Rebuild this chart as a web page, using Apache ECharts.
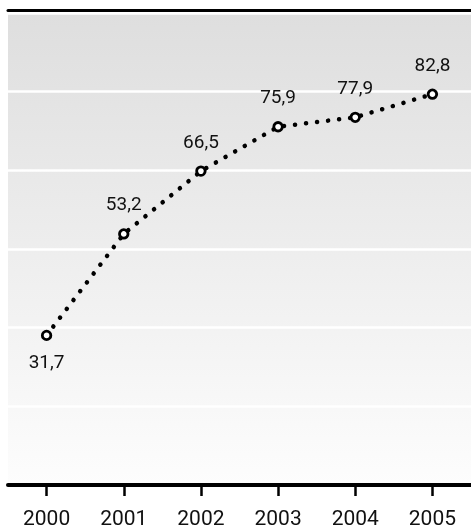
<!DOCTYPE html>
<html>
<head>
<meta charset="utf-8">
<script src="https://cdn.jsdelivr.net/npm/echarts@6/dist/echarts.min.js"></script>
<style>
html,body{margin:0;padding:0;background:#fff;}
#chart{width:471px;height:530px;}
</style>
</head>
<body>
<div id="chart"></div>
<script>
var years = ['2000', '2001', '2002', '2003', '2004', '2005'];
var values = [31.7, 53.2, 66.5, 75.9, 77.9, 82.8];
var labelsBelow = ['2000'];

var FONT = 'Roboto, "Liberation Sans Narrow", sans-serif';

var chart = echarts.init(document.getElementById('chart'), null, {renderer: 'canvas'});

var seriesData = values.map(function (v, i) {
  var below = labelsBelow.indexOf(years[i]) >= 0;
  return {
    value: v,
    label: { position: below ? 'bottom' : 'top' }
  };
});

chart.setOption({
  animation: false,
  backgroundColor: '#ffffff',
  grid: {
    left: 8, right: -6, top: 13, bottom: 44,
    show: true,
    borderWidth: 0,
    backgroundColor: {
      type: 'linear', x: 0, y: 0, x2: 0, y2: 1,
      colorStops: [
        { offset: 0, color: '#dedede' },
        { offset: 1, color: '#fdfdfd' }
      ]
    }
  },
  xAxis: [{
    type: 'category',
    data: years,
    position: 'bottom',
    offset: 7,
    boundaryGap: true,
    axisLine: { show: true, lineStyle: { color: '#000', width: 4 } },
    axisTick: { show: true, alignWithLabel: true, length: 11, lineStyle: { color: '#000', width: 2.5 } },
    axisLabel: { color: '#111', fontFamily: FONT, fontSize: 21, margin: 17 },
    splitLine: { show: false }
  }, {
    type: 'category',
    data: years,
    position: 'top',
    offset: 3,
    axisLine: { show: true, lineStyle: { color: '#000', width: 3 } },
    axisTick: { show: false },
    axisLabel: { show: false },
    splitLine: { show: false }
  }],
  yAxis: {
    type: 'value',
    min: 0,
    max: 100,
    interval: 100 / 6,
    axisLine: { show: false },
    axisTick: { show: false },
    axisLabel: { show: false },
    splitLine: { show: true, lineStyle: { color: '#ffffff', width: 2.5 } }
  },
  series: [{
    type: 'line',
    data: seriesData,
    xAxisIndex: 0,
    symbol: 'circle',
    symbolSize: 8.5,
    itemStyle: { color: '#ffffff', borderColor: '#000', borderWidth: 2.8 },
    lineStyle: { color: '#000', width: 4.5, type: [0.1, 11], cap: 'round' },
    label: {
      show: true,
      distance: 13,
      color: '#111',
      fontFamily: FONT,
      fontSize: 19,
      formatter: function (p) { return String(p.value).replace('.', ','); }
    },
    z: 5
  }]
});
</script>
</body>
</html>
